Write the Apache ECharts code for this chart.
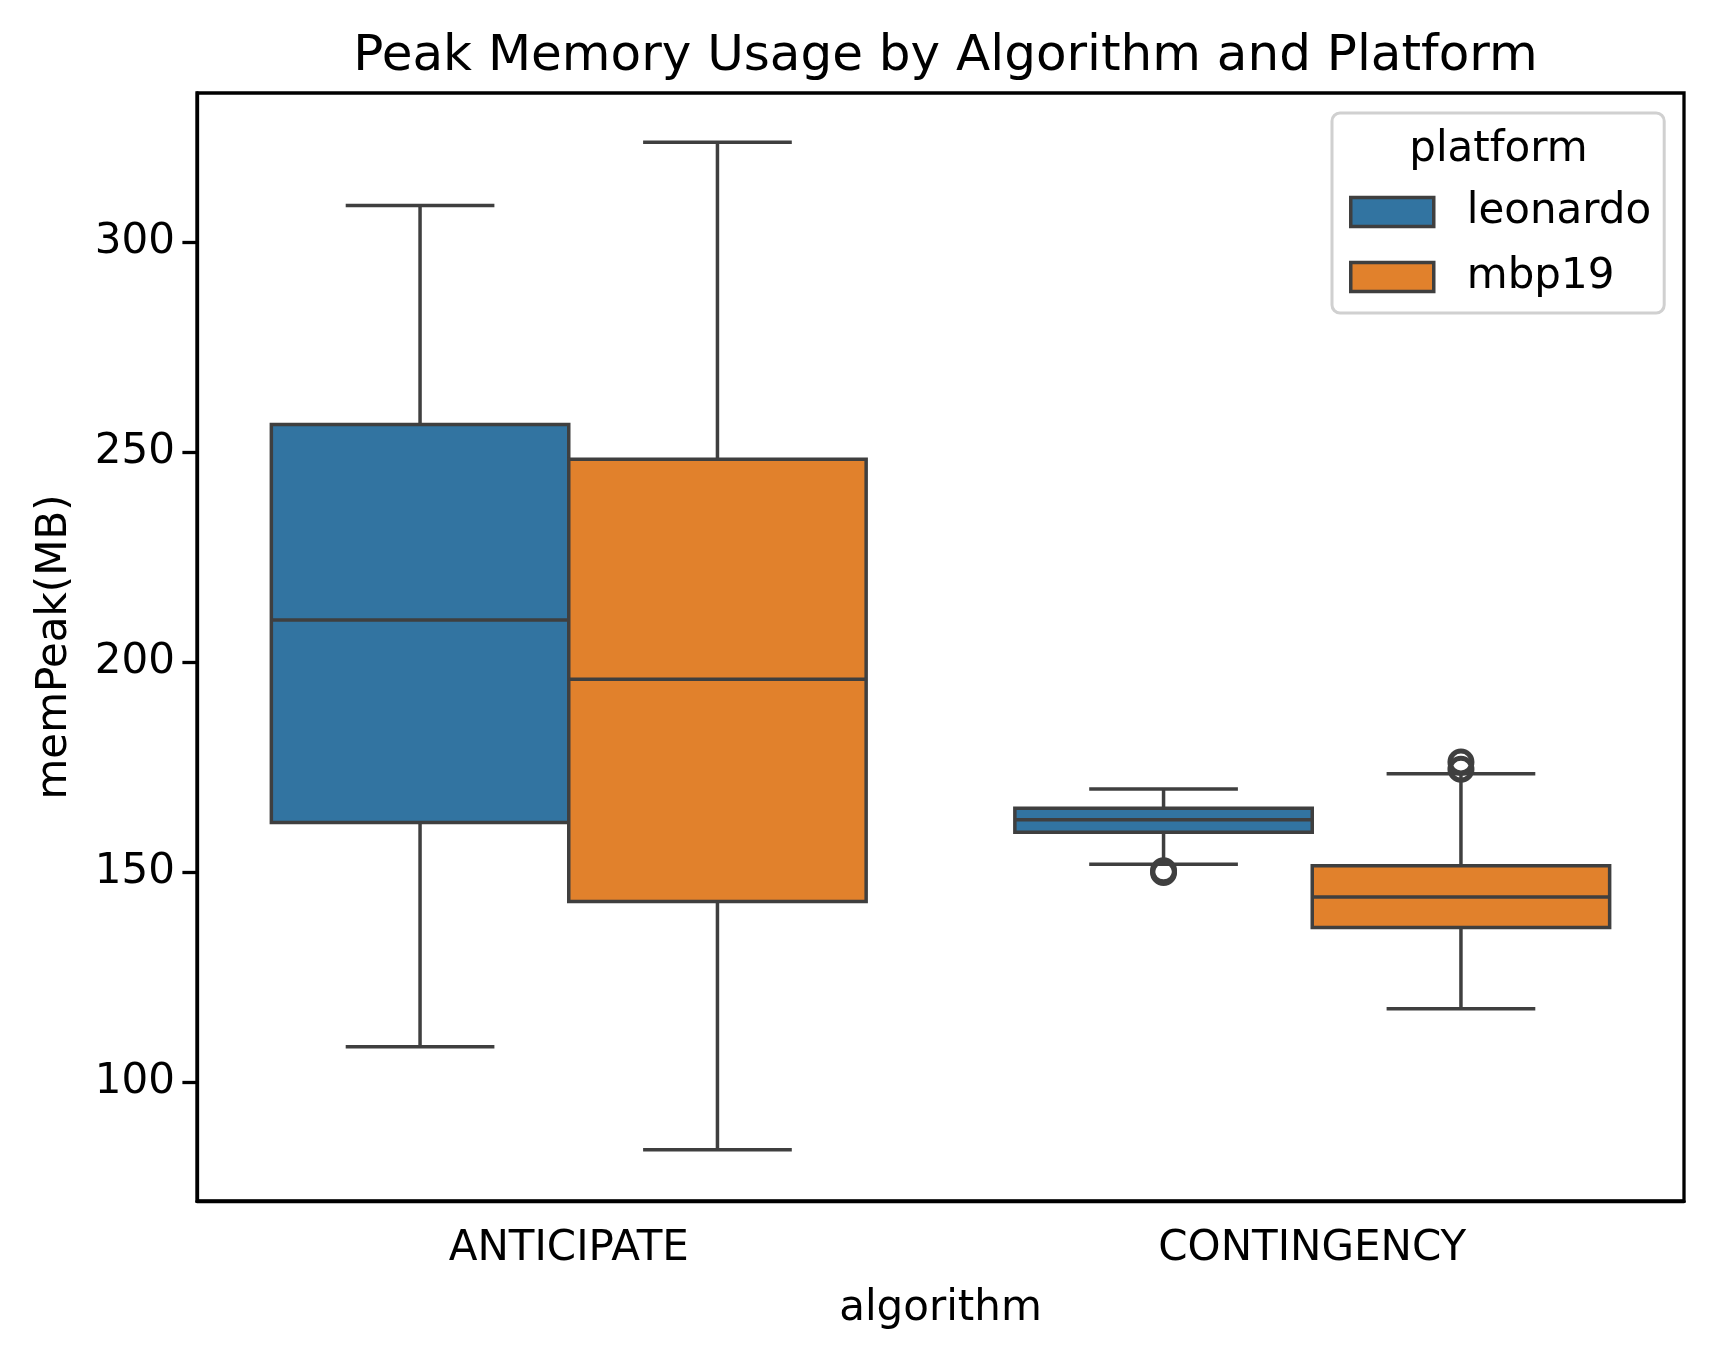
<!DOCTYPE html>
<html>
<head>
<meta charset="utf-8">
<script src="https://cdn.jsdelivr.net/npm/echarts@6/dist/echarts.min.js"></script>
<style>
    html, body { margin: 0; padding: 0; background: #fff; }
    #chart { width: 1715px; height: 1361px; }
</style>
</head>
<body>
<div id="chart"></div>
<script>
const categories = ['ANTICIPATE', 'CONTINGENCY'];
const platforms = ['leonardo', 'mbp19'];
// [lower whisker, Q1, median, Q3, upper whisker], one row per category
const leonardoStats = [
    [108.5, 161.9, 210.1, 256.7, 308.8],
    [152.0, 159.6, 162.6, 165.3, 169.9]
];
const mbp19Stats = [
    [84.0, 143.1, 196.0, 248.4, 323.9],
    [117.6, 136.9, 144.2, 151.6, 173.5]
];
// [category index, value]
const leonardoOutliers = [[1, 150.4], [1, 150.0]];
const mbp19Outliers = [[1, 176.3], [1, 174.6]];
const yTicks = [100, 150, 200, 250, 300];

const EDGE = '#3f3f3f';
const LW = 3.5;
const FONT = 'DejaVu Sans';
const colors = { leonardo: '#3274A1', mbp19: '#E1812C' };

function boxRenderer(offset) {
    return function (params, api) {
        const cat = api.value(0);
        const band = api.size([1, 0])[0];
        const cx = api.coord([cat, 0])[0] + offset * band;
        const half = band * 0.2;
        const cap = half / 2;
        const y = k => api.coord([cat, api.value(k)])[1];
        const low = y(1), q1 = y(2), med = y(3), q3 = y(4), high = y(5);
        const line = { stroke: EDGE, lineWidth: LW };
        return {
            type: 'group',
            children: [
                { type: 'line', shape: { x1: cx, y1: q1, x2: cx, y2: low }, style: line },
                { type: 'line', shape: { x1: cx, y1: q3, x2: cx, y2: high }, style: line },
                { type: 'line', shape: { x1: cx - cap, y1: low, x2: cx + cap, y2: low }, style: line },
                { type: 'line', shape: { x1: cx - cap, y1: high, x2: cx + cap, y2: high }, style: line },
                {
                    type: 'rect',
                    shape: { x: cx - half, y: q3, width: half * 2, height: q1 - q3 },
                    style: { fill: api.visual('color'), stroke: EDGE, lineWidth: LW }
                },
                { type: 'line', shape: { x1: cx - half, y1: med, x2: cx + half, y2: med }, style: line }
            ]
        };
    };
}

function outlierRenderer(offset) {
    return function (params, api) {
        const cat = api.value(0);
        const band = api.size([1, 0])[0];
        const p = api.coord([cat, api.value(1)]);
        return {
            type: 'circle',
            shape: { cx: p[0] + offset * band, cy: p[1], r: 11 },
            style: { fill: 'none', stroke: EDGE, lineWidth: 5 }
        };
    };
}

const boxData = stats => stats.map((s, i) => [i].concat(s));

const chart = echarts.init(document.getElementById('chart'), null, { renderer: 'canvas' });
const option = {
    backgroundColor: '#fff',
    animation: false,
    textStyle: { fontFamily: FONT },
    title: {
        text: 'Peak Memory Usage by Algorithm and Platform',
        left: 940.5,
        top: 27,
        textAlign: 'center',
        textStyle: { fontFamily: FONT, fontSize: 50, fontWeight: 'normal', color: '#000' }
    },
    grid: {
        left: 197, right: 31, top: 93, bottom: 160,
        show: true, borderColor: '#000', borderWidth: 3.3, backgroundColor: '#fff'
    },
    legend: {
        orient: 'vertical',
        left: 1332,
        top: 113,
        padding: [78, 13, 15, 17],
        backgroundColor: 'rgba(255,255,255,0.8)',
        borderColor: '#d0d0d0',
        borderWidth: 3,
        borderRadius: 8,
        itemWidth: 83,
        itemHeight: 29,
        itemGap: 23,
        selectedMode: false,
        icon: 'rect',
        textStyle: { fontFamily: FONT, fontSize: 42, color: '#000', padding: [0, 0, 0, 28] },
        data: platforms.map(p => ({
            name: p,
            itemStyle: { color: colors[p], borderColor: EDGE, borderWidth: LW }
        }))
    },
    graphic: [{
        type: 'text',
        z: 100,
        style: {
            text: 'platform', x: 1498.5, y: 150,
            align: 'center', verticalAlign: 'middle',
            font: '42px "DejaVu Sans"', fill: '#000'
        }
    }],
    xAxis: {
        type: 'category',
        data: categories,
        boundaryGap: true,
        name: 'algorithm',
        nameLocation: 'middle',
        nameGap: 87,
        nameTextStyle: { fontFamily: FONT, fontSize: 42, color: '#000' },
        axisLine: { lineStyle: { color: '#000', width: 3.3 } },
        axisTick: { alignWithLabel: true, length: 14.6, lineStyle: { color: '#000', width: 3.3 } },
        axisLabel: { fontFamily: FONT, fontSize: 42, color: '#000', margin: 27 },
        splitLine: { show: false }
    },
    yAxis: {
        type: 'value',
        min: 71.8,
        max: 335.6,
        name: 'memPeak(MB)',
        nameLocation: 'middle',
        nameGap: 121,
        nameTextStyle: { fontFamily: FONT, fontSize: 42, color: '#000' },
        axisLine: { show: true, lineStyle: { color: '#000', width: 3.3 } },
        axisTick: { show: true, length: 14.6, customValues: yTicks, lineStyle: { color: '#000', width: 3.3 } },
        axisLabel: { fontFamily: FONT, fontSize: 42, color: '#000', margin: 22, customValues: yTicks },
        splitLine: { show: false }
    },
    series: [
        {
            name: 'leonardo', type: 'custom',
            itemStyle: { color: colors.leonardo },
            encode: { x: 0, y: [1, 2, 3, 4, 5] },
            renderItem: boxRenderer(-0.2),
            data: boxData(leonardoStats)
        },
        {
            name: 'mbp19', type: 'custom',
            itemStyle: { color: colors.mbp19 },
            encode: { x: 0, y: [1, 2, 3, 4, 5] },
            renderItem: boxRenderer(0.2),
            data: boxData(mbp19Stats)
        },
        {
            name: 'leonardo outliers', type: 'custom',
            encode: { x: 0, y: 1 },
            renderItem: outlierRenderer(-0.2),
            data: leonardoOutliers
        },
        {
            name: 'mbp19 outliers', type: 'custom',
            encode: { x: 0, y: 1 },
            renderItem: outlierRenderer(0.2),
            data: mbp19Outliers
        }
    ]
};
chart.setOption(option);
</script>
</body>
</html>
